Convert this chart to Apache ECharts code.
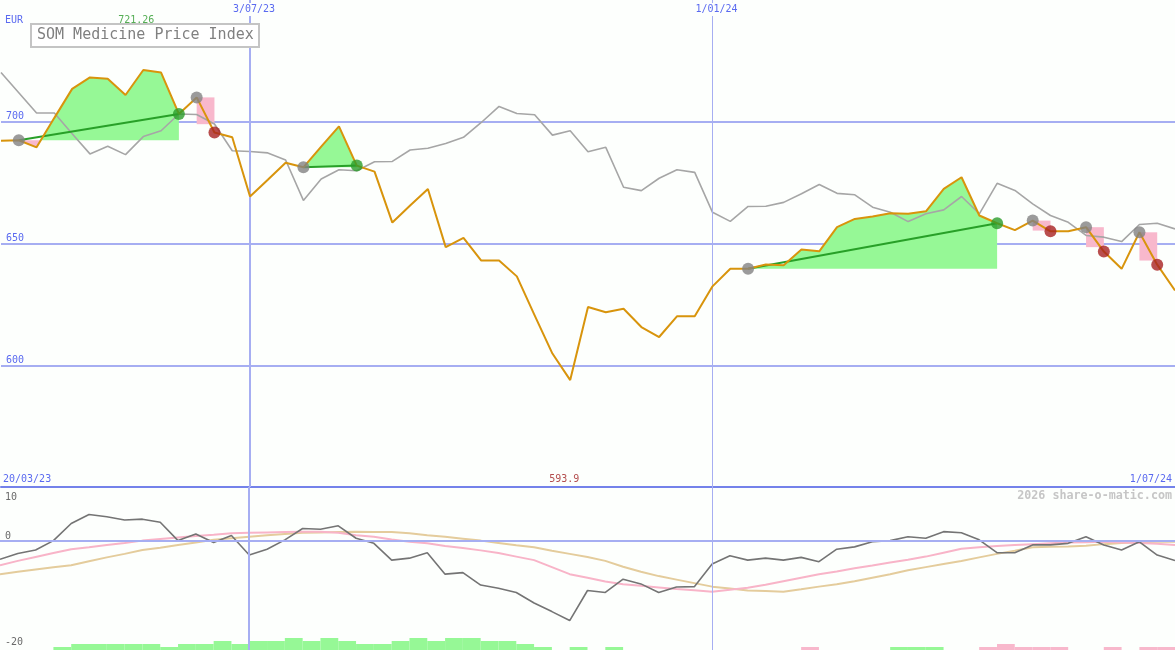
<!DOCTYPE html>
<html><head><meta charset="utf-8">
<script src="https://cdn.jsdelivr.net/npm/echarts@6/dist/echarts.min.js"></script>
<style>html,body{margin:0;padding:0;background:#fdfffd}#c{width:1175px;height:650px}</style>
</head><body><div id="c"></div>
<script>
// week index: 0 = 3 Jul 2023, one step = one week; first point is week -14
const firstWeek = -14;
const lastWeek = 52;

const price = [692.2, 692.4, 689.5, 701.6, 713.5, 718.2, 717.7, 711.0, 721.26, 720.2,
  703.2, 710.0, 695.6, 693.6,
  669.3, 676.2, 683.2, 681.3, 689.8, 698.1, 682.0, 679.5, 658.6, 665.6,
  672.4, 648.5, 652.3, 643.0, 643.0, 636.5, 620.5, 604.8, 593.9, 623.9,
  621.8, 623.2, 615.7, 611.6, 620.1, 620.1, 632.4, 639.6, 639.6, 641.4,
  641.1, 647.5, 646.8, 656.7, 660.1, 661.1, 662.4, 662.2, 663.2, 672.4,
  677.2, 661.5, 658.3, 655.5, 659.4, 655.0, 655.0, 656.7, 646.7, 639.6,
  654.6, 641.3, 630.7];

const compare = [720.2, 711.9, 703.6, 703.6, 695.1, 686.8, 689.9, 686.5, 693.9, 696.3,
  703.2, 703.0, 699.1, 688.1,
  687.8, 687.2, 684.3, 667.7, 676.5, 680.3, 679.9, 683.6, 683.7, 688.4,
  689.1, 691.1, 693.6, 699.7, 706.3, 703.4, 702.9, 694.5, 696.3, 687.7,
  689.5, 673.1, 671.7, 676.8, 680.3, 679.2, 662.8, 659.1, 665.2, 665.3,
  666.9, 670.4, 674.2, 670.6, 670.0, 664.9, 662.8, 659.0, 662.2, 663.8,
  669.3, 662.2, 674.7, 671.8, 666.3, 661.5, 658.7, 653.3, 652.6, 650.8,
  657.8, 658.3, 656.0];

const momentum = [-4.7, -3.2, -2.3, 0.1, 4.5, 6.8, 6.2, 5.4, 5.6, 4.8,
  0.1, 1.8, -0.4, 1.4,
  -3.6, -2.1, 0.3, 3.2, 3.0, 3.9, 0.7, -0.6, -4.9, -4.4,
  -3.0, -8.5, -8.1, -11.3, -12.1, -13.2, -15.9, -18.1, -20.4, -12.7,
  -13.2, -9.8, -11.0, -13.2, -11.8, -11.7, -5.9, -3.8, -4.9, -4.4,
  -4.9, -4.2, -5.3, -2.1, -1.5, -0.2, 0.1, 1.1, 0.7, 2.4,
  2.1, 0.3, -3.0, -3.0, -1.0, -1.0, -0.6, 1.1, -1.0, -2.3,
  -0.2, -3.6, -5.0];

const signalFast = [-6.2, -5.1, -4.1, -3.1, -2.1, -1.6, -1.0, -0.5, 0.1, 0.5,
  0.9, 1.3, 1.6, 2.0,
  2.1, 2.2, 2.3, 2.4, 2.4, 2.1, 1.5, 1.1, 0.4, -0.2,
  -0.6, -1.3, -1.8, -2.4, -3.1, -4.0, -4.9, -6.7, -8.5, -9.4,
  -10.4, -11.1, -11.5, -11.9, -12.3, -12.6, -13.0, -12.5, -12.0, -11.2,
  -10.3, -9.4, -8.5, -7.8, -7.0, -6.3, -5.5, -4.8, -4.0, -3.0,
  -2.0, -1.6, -1.3, -1.0, -0.8, -0.6, -0.4, -0.3, -0.2, -0.4,
  -0.5, -0.7, -1.0];

const signalSlow = [-8.5, -7.9, -7.3, -6.7, -6.2, -5.2, -4.2, -3.3, -2.3, -1.7,
  -1.0, -0.4, 0.3, 0.7,
  1.1, 1.5, 1.8, 2.1, 2.2, 2.3, 2.4, 2.3, 2.3, 2.0,
  1.5, 1.1, 0.6, 0.1, -0.5, -1.1, -1.6, -2.5, -3.3, -4.1,
  -5.1, -6.6, -7.9, -9.0, -9.9, -10.8, -11.7, -12.2, -12.7, -12.8,
  -13.0, -12.4, -11.7, -11.1, -10.3, -9.4, -8.5, -7.5, -6.7, -5.9,
  -5.1, -4.2, -3.3, -2.5, -1.6, -1.5, -1.4, -1.2, -0.8, -0.5,
  -0.3, -0.2, -0.2];

// weekly histogram (interval from week k to k+1), weeks -14..51
const volUp = [0,0,0,1,2,2,2,2,2,1,
  2,2,3,2,
  3,3,4,3,4,3,2,2,3,4,
  3,4,4,3,3,2,1,0,1,0,
  1,0,0,0,0,0,0,0,0,0,
  0,0,0,0,0,0,1,1,1,0,
  0,0,0,0,0,0,0,0,0,0,
  0,0];
const volDown = [0,0,0,0,0,0,0,0,0,0,
  0,0,0,0,
  0,0,0,0,0,0,0,0,0,0,
  0,0,0,0,0,0,0,0,0,0,
  0,0,0,0,0,0,0,0,0,0,
  0,1,0,0,0,0,0,0,0,0,
  0,1,2,1,1,1,0,0,1,0,
  1,1];

const tradeEntry = [-13, -3, 3, 28, 44, 47, 50];
const tradeExit = [-4, -2, 6, 42, 45, 48, 51];
const tradeLossFloor = [null, 699.0, null, null, 655.3, 648.5, 643.0];

const priceTicks = [600, 650, 700];
const dateTickWeeks = [0, 26];
const dateTickLabels = ['3/07/23', '1/01/24'];
const edgeTickWeeks = [-14, 52];
const edgeTickLabels = ['20/03/23', '1/07/24'];
const indTicks = [10, 0, -27.2];
const indTickLabels = ['10', '0', '-20'];

const P = k => price[k - firstWeek];
const series2 = arr => arr.map((v, i) => [i + firstWeek, v]);
const pick = (vals, labels) => v => {
  let best = 0;
  vals.forEach((t, i) => { if (Math.abs(t - v) < Math.abs(vals[best] - v)) best = i; });
  return labels[best];
};

const mono = "'DejaVu Sans Mono', monospace";
const bg = '#fdfffd';
const blue = '#5a6af0';
const gridBlue = '#a6aef2';
const greenFill = '#96f896';
const pinkFill = '#f8b8cc';

const trades = tradeEntry.map((e, i) => ({
  e, x: tradeExit[i], win: P(tradeExit[i]) > P(e), floor: tradeLossFloor[i]
}));

function fillRender(params, api) {
  const t = trades[params.dataIndex];
  if (!t.win) {
    const a = api.coord([t.e, P(t.e)]), b = api.coord([t.x, t.floor]);
    return { type: 'rect', shape: { x: a[0], y: a[1], width: b[0] - a[0], height: b[1] - a[1] },
      style: { fill: pinkFill } };
  }
  const L = P(t.e);
  const up = [[t.e, L]], dn = [[t.e, L]];
  for (let k = t.e; k <= t.x; k++) {
    const v = P(k);
    if (k > t.e) {
      const pv = P(k - 1);
      if ((pv - L) * (v - L) < 0) {
        const c = (k - 1) + (L - pv) / (v - pv);
        up.push([c, L]); dn.push([c, L]);
      }
    }
    up.push([k, Math.max(v, L)]); dn.push([k, Math.min(v, L)]);
  }
  up.push([t.x, L]); dn.push([t.x, L]);
  return { type: 'group', children: [
    { type: 'polygon', shape: { points: up.map(p => api.coord(p)) }, style: { fill: greenFill } },
    { type: 'polygon', shape: { points: dn.map(p => api.coord(p)) }, style: { fill: pinkFill } }
  ] };
}

function histRender(params, api) {
  const k = api.value(0), v = api.value(1), s = api.value(2);
  if (!v) return null;
  const a = api.coord([k, v]), b = api.coord([k + 1, 0]);
  return { type: 'rect', shape: { x: a[0], y: a[1], width: b[0] - a[0], height: b[1] - a[1] },
    style: { fill: s > 0 ? greenFill : pinkFill } };
}

const histData = volUp.map((v, i) => [i + firstWeek, v, 1])
  .concat(volDown.map((v, i) => [i + firstWeek, v, -1]));

const maxIdx = price.indexOf(Math.max(...price));
const minIdx = price.indexOf(Math.min(...price));

const vLines = dateTickWeeks.map((w, i) => ({ xAxis: w, lineStyle: { color: gridBlue, width: i === 0 ? 2 : 1, type: 'solid' } }));

const winTrendSeries = trades.filter(t => t.win).map(t => ({
  type: 'line', xAxisIndex: 0, yAxisIndex: 0, z: 4, symbol: 'none', silent: true,
  lineStyle: { color: '#28a028', width: 2 },
  data: [[t.e, P(t.e)], [t.x, P(t.x)]]
}));

const chart = echarts.init(document.getElementById('c'), null, { renderer: 'canvas' });
chart.setOption({
  animation: false,
  backgroundColor: bg,
  title: {
    text: 'SOM Medicine Price Index', left: 31, top: 24, padding: [4, 6, 4, 6],
    borderColor: '#c4c4c4', borderWidth: 2, backgroundColor: '#ffffff',
    textStyle: { fontFamily: mono, fontSize: 15, fontWeight: 'normal', color: '#808080' }
  },
  graphic: [
    { type: 'text', left: 5, top: 15, style: { text: 'EUR', fill: blue, font: '10px ' + mono } },
    { type: 'text', right: 3, top: 490, style: { text: '2026 share-o-matic.com', fill: '#c6c6c6', font: 'bold 11.7px ' + mono } }
  ],
  grid: [
    { left: 0, right: 0, top: -1, height: 488 },
    { left: 0, right: 0, top: 487, height: 163 }
  ],
  xAxis: [
    { gridIndex: 0, type: 'value', min: firstWeek, max: lastWeek, position: 'top', z: 10,
      axisLine: { show: false }, axisTick: { show: false }, splitLine: { show: false },
      axisLabel: { inside: true, margin: 3, customValues: dateTickWeeks, formatter: pick(dateTickWeeks, dateTickLabels),
        color: blue, fontFamily: mono, fontSize: 10, padding: [1, 0, 2, 8], backgroundColor: bg } },
    { gridIndex: 0, type: 'value', min: firstWeek, max: lastWeek, position: 'bottom',
      axisLine: { show: true, onZero: false, lineStyle: { color: '#7482ea', width: 2 } },
      axisTick: { show: false }, splitLine: { show: false },
      axisLabel: { inside: true, margin: 3, customValues: edgeTickWeeks, formatter: pick(edgeTickWeeks, edgeTickLabels),
        alignMinLabel: 'left', alignMaxLabel: 'right', color: blue, fontFamily: mono, fontSize: 10, padding: [0, 3, 0, 2] } },
    { gridIndex: 1, type: 'value', min: firstWeek, max: lastWeek, show: false }
  ],
  yAxis: [
    { gridIndex: 0, type: 'value', min: 550, max: 750, interval: 50,
      axisLine: { show: false }, axisTick: { show: false },
      splitLine: { show: true, showMaxLine: false, showMinLine: false, lineStyle: { color: gridBlue, width: 2 } },
      axisLabel: { inside: true, margin: 5, customValues: priceTicks, verticalAlign: 'bottom',
        color: blue, fontFamily: mono, fontSize: 10 } },
    { gridIndex: 1, type: 'value', min: -27.95, max: 13.85,
      axisLine: { show: false }, axisTick: { show: false }, splitLine: { show: false },
      axisLabel: { inside: true, margin: 5, customValues: indTicks, formatter: pick(indTicks, indTickLabels),
        verticalAlign: 'bottom', color: '#6a6a6a', fontFamily: mono, fontSize: 10 } },
    { gridIndex: 1, type: 'value', min: 0, max: 54.33, show: false }
  ],
  series: [
    { type: 'custom', xAxisIndex: 0, yAxisIndex: 0, z: 1, silent: true,
      renderItem: fillRender, encode: { x: 0, y: 1 },
      data: trades.map(t => [t.e, P(t.e)]) },
    { type: 'line', name: 'compare', xAxisIndex: 0, yAxisIndex: 0, z: 3, symbol: 'none', silent: true,
      lineStyle: { color: '#a6a6a6', width: 1.6 }, data: series2(compare),
      markLine: { silent: true, symbol: ['none', 'none'], label: { show: false }, data: vLines } },
    ...winTrendSeries,
    { type: 'line', name: 'price', xAxisIndex: 0, yAxisIndex: 0, z: 5, symbol: 'none', silent: true,
      lineStyle: { color: '#d8940c', width: 2 }, data: series2(price) },
    { type: 'scatter', xAxisIndex: 0, yAxisIndex: 0, z: 6, symbolSize: 12, silent: true,
      itemStyle: { color: '#828282' }, data: trades.map(t => [t.e, P(t.e)]) },
    { type: 'scatter', xAxisIndex: 0, yAxisIndex: 0, z: 6, symbolSize: 12, silent: true,
      itemStyle: { color: '#2a9c2a' }, data: trades.filter(t => t.win).map(t => [t.x, P(t.x)]) },
    { type: 'scatter', xAxisIndex: 0, yAxisIndex: 0, z: 6, symbolSize: 12, silent: true,
      itemStyle: { color: '#a82222' }, data: trades.filter(t => !t.win).map(t => [t.x, P(t.x)]) },
    { type: 'scatter', xAxisIndex: 0, yAxisIndex: 0, z: 7, symbolSize: 0, silent: true,
      encode: { x: 0, y: 1 },
      label: { show: true, position: 'bottom', distance: 15, offset: [-7, 0], formatter: p => String(p.value[2]),
        color: '#2a9a2a', fontFamily: mono, fontSize: 10 },
      data: [[maxIdx + firstWeek, 750, price[maxIdx]]] },
    { type: 'scatter', xAxisIndex: 0, yAxisIndex: 0, z: 7, symbolSize: 0, silent: true,
      encode: { x: 0, y: 1 },
      label: { show: true, position: 'top', distance: 3, offset: [-6, 0], formatter: p => String(p.value[2]),
        color: '#a02020', fontFamily: mono, fontSize: 10 },
      data: [[minIdx + firstWeek, 550, price[minIdx]]] },

    { type: 'custom', xAxisIndex: 2, yAxisIndex: 2, z: 1, silent: true,
      renderItem: histRender, encode: { x: 0, y: 1 }, data: histData },
    { type: 'line', xAxisIndex: 2, yAxisIndex: 1, z: 2, symbol: 'none', silent: true,
      lineStyle: { color: '#e4cc9c', width: 2 }, data: series2(signalSlow),
      markLine: { silent: true, symbol: ['none', 'none'], label: { show: false },
        data: vLines.concat([{ yAxis: 0, lineStyle: { color: gridBlue, width: 2, type: 'solid' } }]) } },
    { type: 'line', xAxisIndex: 2, yAxisIndex: 1, z: 3, symbol: 'none', silent: true,
      lineStyle: { color: '#f8b4c8', width: 2 }, data: series2(signalFast) },
    { type: 'line', xAxisIndex: 2, yAxisIndex: 1, z: 4, symbol: 'none', silent: true,
      lineStyle: { color: '#747474', width: 1.6 }, data: series2(momentum) }
  ]
});
</script>
</body></html>
